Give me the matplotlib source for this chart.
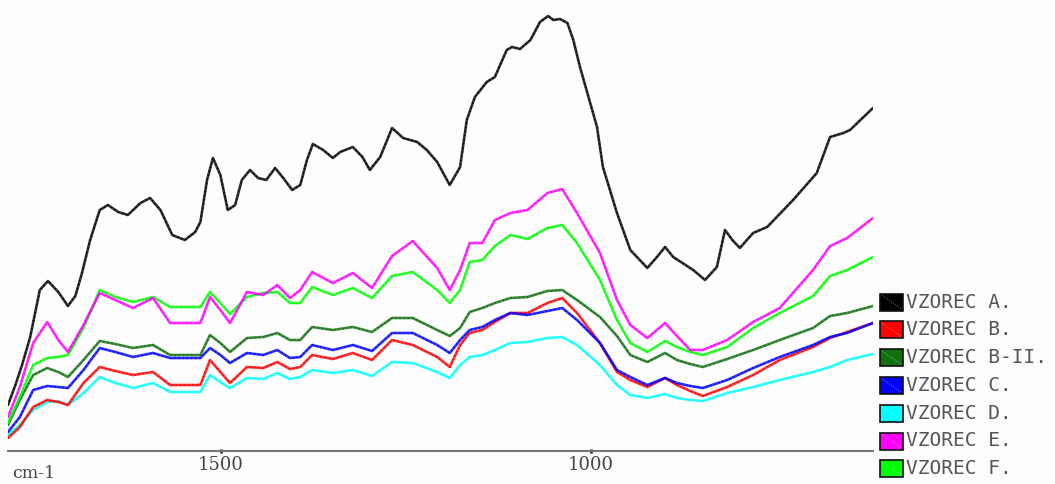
import matplotlib
matplotlib.use("Agg")
import matplotlib.pyplot as plt
from matplotlib.patches import Rectangle
from matplotlib.lines import Line2D

# wavenumber grid (cm-1) shared by samples B .. F
wn = [1788, 1772, 1754, 1735, 1720, 1707, 1686, 1664, 1643, 1619,
      1592, 1569, 1528, 1515, 1501, 1488, 1465, 1443, 1424, 1407,
      1393, 1377, 1349, 1322, 1296, 1269, 1241, 1208, 1191, 1177,
      1164, 1147, 1130, 1109, 1086, 1059, 1039, 1019, 988, 965,
      947, 924, 900, 884, 866, 849, 816, 781, 745, 700,
      677, 654, 619]

# sample A was sampled on its own grid
wn_a = [1788, 1778, 1769, 1758, 1745, 1734, 1720, 1707, 1697, 1688,
        1677, 1664, 1653, 1639, 1626, 1609, 1596, 1582, 1566, 1549,
        1535, 1528, 1519, 1511, 1501, 1491, 1481, 1472, 1461, 1450,
        1439, 1427, 1416, 1404, 1393, 1384, 1376, 1362, 1349, 1339,
        1322, 1309, 1299, 1285, 1269, 1254, 1235, 1222, 1208, 1191,
        1177, 1168, 1157, 1141, 1130, 1114, 1107, 1096, 1082, 1069,
        1058, 1051, 1042, 1032, 1024, 1015, 1005, 992, 984, 965,
        947, 924, 911, 900, 889, 862, 846, 830, 819, 809,
        799, 781, 762, 727, 695, 677, 659, 650, 636, 619]

# absorbance, arbitrary units
vz_a = [46, 66, 86, 114, 161, 170, 159, 145, 155, 178,
        211, 241, 246, 239, 236, 248, 253, 241, 216, 211,
        219, 229, 271, 293, 276, 241, 246, 271, 281, 273,
        271, 283, 273, 261, 266, 291, 307, 301, 293, 299,
        304, 294, 281, 294, 323, 313, 309, 301, 289, 266,
        284, 331, 354, 369, 374, 401, 404, 402, 411, 429,
        435, 431, 432, 428, 411, 384, 358, 324, 284, 238,
        201, 183, 194, 204, 194, 181, 171, 184, 221, 211,
        203, 218, 224, 251, 278, 314, 318, 321, 331, 343]

vz_b = [13, 24, 44, 51, 49, 46, 68, 84, 80, 76,
        79, 66, 66, 91, 79, 68, 84, 83, 89, 82,
        84, 96, 92, 98, 91, 111, 106, 94, 84, 106,
        118, 121, 129, 138, 138, 148, 153, 138, 108, 79,
        71, 64, 73, 66, 60, 55, 64, 76, 91, 104,
        113, 119, 128]

vz_b2 = [26, 51, 76, 83, 79, 74, 91, 110, 107, 103,
         106, 96, 96, 116, 108, 99, 113, 114, 118, 111,
         111, 124, 121, 124, 119, 133, 133, 121, 115, 123,
         139, 143, 148, 153, 154, 160, 161, 151, 134, 115,
         96, 89, 98, 91, 87, 84, 92, 101, 111, 123,
         135, 138, 145]

vz_c = [19, 34, 61, 65, 64, 63, 81, 103, 99, 94,
        98, 93, 93, 103, 96, 88, 98, 96, 101, 93,
        94, 106, 101, 106, 100, 118, 118, 106, 98, 111,
        121, 124, 131, 138, 136, 140, 143, 131, 108, 81,
        74, 66, 73, 68, 65, 63, 71, 83, 94, 106,
        114, 118, 128]

vz_d = [16, 26, 41, 49, 50, 46, 58, 74, 68, 63,
        68, 59, 59, 76, 69, 63, 73, 72, 78, 72,
        74, 81, 78, 81, 75, 89, 88, 79, 73, 86,
        94, 96, 101, 108, 109, 113, 114, 106, 86, 66,
        56, 53, 57, 53, 51, 50, 58, 64, 71, 79,
        84, 91, 97]

vz_e = [34, 64, 108, 129, 111, 99, 126, 158, 151, 143,
        153, 128, 128, 154, 141, 128, 159, 156, 166, 153,
        161, 179, 168, 178, 163, 195, 210, 183, 161, 181,
        208, 208, 231, 238, 241, 258, 262, 238, 198, 151,
        126, 113, 128, 115, 101, 101, 111, 129, 143, 181,
        205, 213, 233]

vz_f = [28, 54, 86, 93, 94, 96, 123, 161, 154, 149,
        154, 144, 144, 159, 148, 137, 154, 158, 159, 148,
        148, 164, 156, 163, 153, 175, 179, 161, 148, 161,
        189, 191, 205, 216, 212, 223, 226, 208, 171, 131,
        108, 99, 110, 104, 99, 96, 104, 123, 138, 155,
        175, 181, 194]

labels = ['VZOREC A.', 'VZOREC B.', 'VZOREC B-II.', 'VZOREC C.',
          'VZOREC D.', 'VZOREC E.', 'VZOREC F.']
colors = ['#000000', '#ff0000', '#107010', '#0000ff',
          '#00ffff', '#ff00ff', '#00ff00']

series = [(wn_a, vz_a), (wn, vz_b), (wn, vz_b2), (wn, vz_c),
          (wn, vz_d), (wn, vz_e), (wn, vz_f)]

fig = plt.figure(figsize=(10.55, 4.84), dpi=100)
fig.patch.set_facecolor('#fdfdfd')
ax = fig.add_axes([8 / 1055, 33 / 484, 865 / 1055, 440 / 484])
ax.set_facecolor('#fdfdfd')

# draw the lower traces first, A last so it sits on top
order = [4, 1, 3, 2, 6, 5, 0]
for i in order:
    x, y = series[i]
    ax.plot(x, y, color=colors[i], lw=1.9, solid_joinstyle='round',
            solid_capstyle='round', alpha=0.8)
    ax.plot(x, y, color=colors[i], lw=1.0, ls=(0, (1, 2)))

ax.set_xlim(1788, 619)
ax.set_ylim(0, 440)

for s in ['left', 'right', 'top']:
    ax.spines[s].set_visible(False)
ax.spines['bottom'].set_color('#777777')
ax.spines['bottom'].set_linewidth(1.5)
ax.set_yticks([])
ax.set_xticks([1500, 1000])
ax.tick_params(axis='x', direction='inout', length=3, width=2, color='#222222',
               labelsize=13, labelcolor='#444444', pad=2)
for t in ax.get_xticklabels():
    t.set_family('DejaVu Serif')

fig.text(12 / 1055, 1 - 473 / 484, 'cm-1', family='DejaVu Serif',
         fontsize=12.5, color='#444444', va='center', ha='left')

# legend: swatches with a border and monospaced labels
for k, (lab, col) in enumerate(zip(labels, colors)):
    cy = 302 + 27.8 * k
    x0, w, h = 880, 23, 17
    fig.patches.append(Rectangle((x0 / 1055, 1 - (cy + h / 2) / 484),
                                 w / 1055, h / 484, transform=fig.transFigure,
                                 facecolor=col, edgecolor='#111111', lw=1.2))
    fig.lines.append(Line2D([(x0 + 2) / 1055, (x0 + w - 2) / 1055],
                            [1 - (cy - h / 2 + 2) / 484, 1 - (cy + h / 2 - 2) / 484],
                            transform=fig.transFigure, color='white',
                            lw=0.6, ls=':', alpha=0.6))
    fig.text(906 / 1055, 1 - cy / 484, lab, family='DejaVu Sans Mono',
             fontsize=14, color='#555555', va='center', ha='left')

fig.savefig('out.png', dpi=100, facecolor=fig.get_facecolor())
